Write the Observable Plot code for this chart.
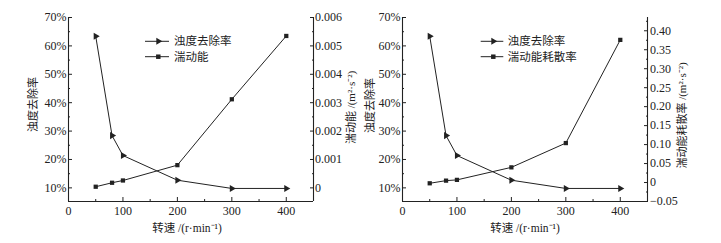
<!DOCTYPE html>
<html><head><meta charset="utf-8">
<script src="https://cdn.jsdelivr.net/npm/d3@7"></script>
<script src="https://cdn.jsdelivr.net/npm/@observablehq/plot@0.6"></script>
<style>
body{margin:0;background:#fff;}
#wrap{display:flex;width:721px;height:243px;}
.panel{position:relative;}
.panel svg{font-family:"Liberation Serif","Noto Sans CJK SC",serif !important;font-size:12px !important;}
.legend{position:absolute;left:0;top:0;pointer-events:none;}
</style></head><body><div id="wrap"></div>
<script>
// ---- data ----
const speeds = [50, 80, 100, 200, 300, 400];
const turbidityRemoval = [63.4, 28.4, 21.4, 12.7, 9.8, 9.8];       // %
const turbulentEnergy = [0.00004, 0.00018, 0.00026, 0.0008, 0.00312, 0.00535]; // m2/s2
const dissipationRate = [-0.002, 0.005, 0.007, 0.040, 0.104, 0.376];        // m2/s3

// ---- ticks ----
const xTicks = [0, 100, 200, 300, 400];
const xMinorTicks = [50, 150, 250, 350];
const leftTicks = [10, 20, 30, 40, 50, 60, 70];
const leftMinorTicks = [15, 25, 35, 45, 55, 65];
const energyTicks = [0, 0.001, 0.002, 0.003, 0.004, 0.005, 0.006];
const energyTickLabels = ["0", "0.001", "0.002", "0.003", "0.004", "0.005", "0.006"];
const energyMinorTicks = [0.0005, 0.0015, 0.0025, 0.0035, 0.0045, 0.0055];
const dissTicks = [-0.05, 0, 0.05, 0.10, 0.15, 0.20, 0.25, 0.30, 0.35, 0.40];
const dissTickLabels = ["\u22120.05", "0", "0.05", "0.10", "0.15", "0.20", "0.25", "0.30", "0.35", "0.40"];
const dissMinorTicks = [-0.025, 0.025, 0.075, 0.125, 0.175, 0.225, 0.275, 0.325, 0.375, 0.425];

// ---- domains ----
const xDomain = [0, 450];
const leftDomain = [5.2, 70];
const energyDomain = [-0.00048, 0.006];
const dissDomain = [-0.05, 0.435];

// ---- labels ----
const xLabel = "转速 /(r·min\u207B\u00B9)";
const leftLabel = "浊度去除率";
const energyLabel = "湍动能 /(m\u00B2·s\u207B\u00B2)";
const dissLabel = "湍动能耗散率 /(m\u00B2·s\u207B\u00B2)";
const seriesA = "浊度去除率";
const seriesB1 = "湍动能";
const seriesB2 = "湍动能耗散率";

const FONT = "'Liberation Serif','Noto Sans CJK SC',serif";
const INK = "#222";

function panel(cfg) {
  const toLeft = d3.scaleLinear().domain(cfg.rightDomain).range(leftDomain);
  const rightTickPos = cfg.rightTicks.map(toLeft);
  const labelMap = new Map(rightTickPos.map((p, i) => [p, cfg.rightTickLabels[i]]));
  const dataA = speeds.map((s, i) => ({x: s, y: turbidityRemoval[i]}));
  const dataB = speeds.map((s, i) => ({x: s, y: toLeft(cfg.rightValues[i])}));
  const blank = () => "";
  const plot = Plot.plot({
    width: cfg.width, height: 243,
    marginLeft: cfg.ml, marginRight: cfg.mr, marginTop: 17, marginBottom: 42,
    style: {fontFamily: FONT, fontSize: "12px", color: INK, background: "#fff", overflow: "visible"},
    x: {domain: xDomain, axis: null},
    y: {domain: leftDomain, axis: null},
    marks: [
      Plot.ruleX([xDomain[0], xDomain[1]], {stroke: INK, strokeWidth: 1.1}),
      Plot.ruleY([leftDomain[0]], {stroke: INK, strokeWidth: 1.1}),
      Plot.axisX({anchor: "bottom", ticks: xTicks, tickSize: -4, tickPadding: 9, label: null, stroke: INK, fill: INK}),
      Plot.axisX({anchor: "bottom", ticks: xMinorTicks, tickSize: -2, tickFormat: blank, label: null, stroke: INK}),
      Plot.axisY({anchor: "left", ticks: leftTicks, tickSize: -4, tickPadding: 6, tickFormat: d => d + "%", label: null, stroke: INK, fill: INK}),
      Plot.axisY({anchor: "left", ticks: leftMinorTicks, tickSize: -2, tickFormat: blank, label: null, stroke: INK}),
      Plot.axisY({anchor: "right", ticks: rightTickPos, tickSize: -4, tickPadding: cfg.rPad, tickFormat: d => labelMap.get(d), label: null, stroke: INK, fill: INK}),
      Plot.axisY({anchor: "right", ticks: cfg.rightMinor.map(toLeft), tickSize: -2, tickFormat: blank, label: null, stroke: INK}),
      Plot.line(dataA, {x: "x", y: "y", stroke: INK, strokeWidth: 1}),
      Plot.dot(dataA, {x: "x", y: "y", symbol: "triangle", r: 2.6, rotate: 90, fill: INK, stroke: "none"}),
      Plot.line(dataB, {x: "x", y: "y", stroke: INK, strokeWidth: 1}),
      Plot.dot(dataB, {x: "x", y: "y", symbol: "square", r: 2.4, fill: INK, stroke: "none"}),
      Plot.text([xLabel], {frameAnchor: "bottom", text: d => d, textAnchor: "middle", lineAnchor: "middle", dx: cfg.xlDx, dy: 27, fontSize: 11.5, fill: INK}),
      Plot.text([leftLabel], {frameAnchor: "left", text: d => d, textAnchor: "middle", lineAnchor: "middle", rotate: -90, dx: cfg.llDx, dy: cfg.llDy, fontSize: 11, fill: INK}),
      Plot.text([cfg.rightLabel], {frameAnchor: "right", text: d => d, textAnchor: "middle", lineAnchor: "middle", rotate: -90, dx: cfg.rlDx, dy: cfg.rlDy, fontSize: 11, fill: INK})
    ]
  });
  const div = document.createElement("div");
  div.className = "panel";
  div.style.width = cfg.width + "px";
  div.appendChild(plot);
  // legend
  const svg = d3.select(div).append("svg").attr("class", "legend")
    .attr("width", cfg.width).attr("height", 243);
  const rows = [
    {label: seriesA, sym: d3.symbolTriangle, rot: 90, size: 21, y: 41.3},
    {label: cfg.seriesB, sym: d3.symbolSquare, rot: 0, size: 20, y: 56.7}
  ];
  const g = svg.selectAll("g").data(rows).join("g");
  g.append("line").attr("x1", cfg.lg[0]).attr("x2", cfg.lg[1]).attr("y1", d => d.y).attr("y2", d => d.y)
    .attr("stroke", INK).attr("stroke-width", 1);
  g.append("path").attr("d", d => d3.symbol(d.sym, d.size)())
    .attr("transform", d => `translate(${cfg.lg[2]},${d.y}) rotate(${d.rot})`).attr("fill", INK);
  g.append("text").attr("x", cfg.lg[3]).attr("y", d => d.y).attr("dy", "0.36em")
    .attr("font-family", FONT).attr("font-size", 11.5).attr("fill", INK).text(d => d.label);
  return div;
}

const wrap = document.getElementById("wrap");
wrap.appendChild(panel({
  width: 360, ml: 68, mr: 47, rPad: 5.5,
  rightDomain: energyDomain, rightTicks: energyTicks, rightTickLabels: energyTickLabels,
  rightMinor: energyMinorTicks, rightValues: turbulentEnergy, rightLabel: energyLabel, seriesB: seriesB1,
  xlDx: -4, llDx: -35, llDy: -5, rlDx: 38, rlDy: -2,
  lg: [145, 169, 158.3, 174]
}));
wrap.appendChild(panel({
  width: 361, ml: 42, mr: 74, rPad: 6.5,
  rightDomain: dissDomain, rightTicks: dissTicks, rightTickLabels: dissTickLabels,
  rightMinor: dissMinorTicks, rightValues: dissipationRate, rightLabel: dissLabel, seriesB: seriesB2,
  xlDx: 0, llDx: -32, llDy: -4, rlDx: 35, rlDy: 6,
  lg: [120.7, 143.3, 133.3, 147.7]
}));
</script></body></html>
